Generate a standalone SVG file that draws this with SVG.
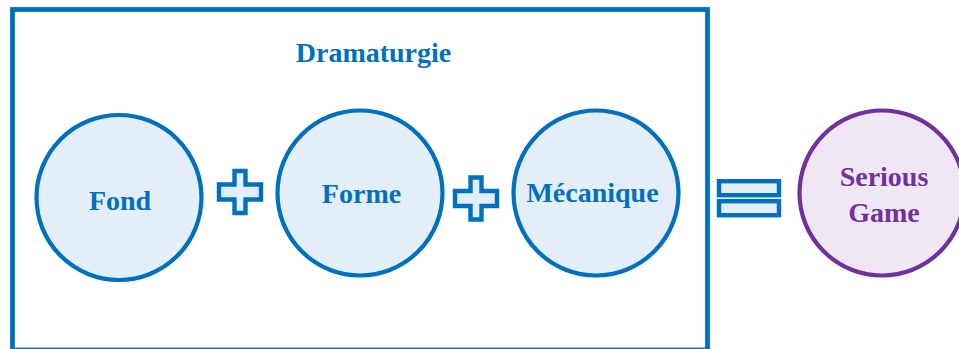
<svg xmlns="http://www.w3.org/2000/svg" width="959" height="349" viewBox="0 0 959 349">
<style>
.frame{fill:none;stroke:#0070C0;stroke-width:4.8}
.nb{fill:#E4EEF8;stroke:#0070C0;stroke-width:4.2}
.np{fill:#EFE8F4;stroke:#7030A0;stroke-width:4.2}
.op{fill:#E4EEF8;stroke:#0070C0;stroke-width:4.4;stroke-linejoin:miter}
.t{font-family:"Liberation Serif","Times New Roman",serif;font-weight:bold;font-size:28px;text-anchor:middle}
.tb{fill:#0070C0}
.tp{fill:#7030A0}
</style>
<defs>
<path id="plus" d="M-5.5,-21 H5.5 V-7.5 H21 V7.5 H5.5 V21 H-5.5 V7.5 H-21 V-7.5 H-5.5 Z"/>
</defs>
<g id="dramaturgie">
<rect class="frame" x="12.5" y="9.5" width="695" height="340.5"/>
<text class="t tb" x="373.5" y="62">Dramaturgie</text>
</g>
<g id="fond">
<circle class="nb" cx="119" cy="197.5" r="82.5"/>
<text class="t tb" x="120" y="210">Fond</text>
</g>
<g id="forme">
<circle class="nb" cx="360" cy="193" r="82.5"/>
<text class="t tb" x="361.5" y="203">Forme</text>
</g>
<g id="mecanique">
<circle class="nb" cx="596" cy="193" r="82.5"/>
<text class="t tb" x="592.5" y="202">Mécanique</text>
</g>
<g id="serious-game">
<circle class="np" cx="882" cy="193" r="82.5"/>
<text class="t tp" x="884" y="186">Serious</text>
<text class="t tp" x="884" y="222">Game</text>
</g>
<g id="connectors">
<use href="#plus" class="op" x="240" y="192"/>
<use href="#plus" class="op" x="476" y="198.5"/>
<rect class="op" x="719" y="181.2" width="60" height="14"/>
<rect class="op" x="719" y="201.2" width="60" height="14"/>
</g>
</svg>
